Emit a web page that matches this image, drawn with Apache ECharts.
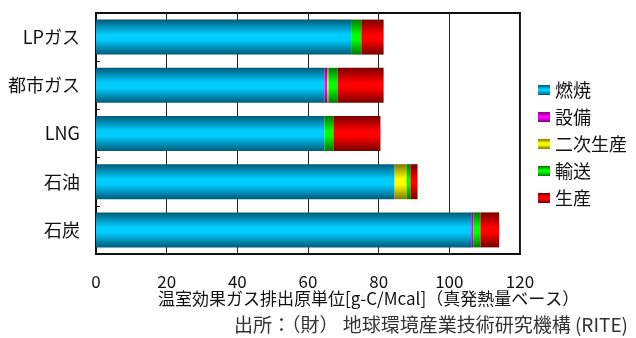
<!DOCTYPE html>
<html>
<head>
<meta charset="utf-8">
<script src="https://cdn.jsdelivr.net/npm/echarts@6/dist/echarts.min.js"></script>
<style>
  html, body { margin: 0; padding: 0; background: #fff; }
  #chart { width: 636px; height: 338px; }
</style>
</head>
<body>
<div id="chart"></div>
<script>
// categories bottom -> top (category axis starts at the bottom)
const fuels = ["石炭", "石油", "LNG", "都市ガス", "LPガス"];
const xTicks = [0, 20, 40, 60, 80, 100, 120];

// g-C/Mcal
const combustion = [106.2, 84.5, 64.7, 64.7, 72.2];   // 燃焼
const equipment  = [0.6, 0, 0, 0.8, 0];               // 設備
const secondary  = [0, 3.4, 0, 0.3, 0];               // 二次生産
const transport  = [2.0, 1.1, 2.5, 2.6, 2.9];         // 輸送
const production = [5.3, 2.0, 13.3, 13.0, 6.3];       // 生産

const FONT = '"Noto Sans CJK JP", "DejaVu Sans", sans-serif';

function shade(dark, bright) {
  return new echarts.graphic.LinearGradient(0, 0, 0, 1, [
    { offset: 0, color: dark },
    { offset: 0.42, color: bright },
    { offset: 0.58, color: bright },
    { offset: 1, color: dark }
  ]);
}

const layers = [
  { name: "燃焼", data: combustion, color: shade("#005a78", "#00ccff") },
  { name: "設備", data: equipment, color: shade("#800080", "#ff00ff") },
  { name: "二次生産", data: secondary, color: shade("#7a7a00", "#ffff00") },
  { name: "輸送", data: transport, color: shade("#007800", "#00ff00") },
  { name: "生産", data: production, color: shade("#780000", "#ff0000") }
];

const chart = echarts.init(document.getElementById("chart"));
chart.setOption({
  backgroundColor: "#fff",
  animation: false,
  textStyle: { fontFamily: FONT },
  grid: {
    left: 96, right: 116, top: 13, bottom: 84,
    show: true, borderColor: "#111", borderWidth: 2
  },
  legend: {
    orient: "vertical",
    left: 533, top: 72,
    icon: "rect",
    itemWidth: 12, itemHeight: 10, itemGap: 1,
    textStyle: { fontSize: 18, color: "#111", fontFamily: FONT, lineHeight: 26 },
    data: layers.map(l => l.name)
  },
  xAxis: {
    type: "value",
    min: 0, max: 120, interval: 20,
    axisLine: { show: true, lineStyle: { color: "#111", width: 2 } },
    axisTick: { show: false },
    axisLabel: {
      fontSize: 17, color: "#111", margin: 19,
      formatter: v => (xTicks.includes(v) ? String(v) : "")
    },
    splitLine: { show: true, lineStyle: { color: "#222", width: 1 } }
  },
  yAxis: {
    type: "category",
    data: fuels,
    axisLine: { show: true, lineStyle: { color: "#111", width: 2 } },
    axisTick: { show: true, inside: true, length: 4, lineStyle: { color: "#111" } },
    axisLabel: { fontSize: 18, color: "#111", margin: 16 },
    splitLine: { show: false }
  },
  series: layers.map(l => ({
    name: l.name,
    type: "bar",
    stack: "total",
    barWidth: 35,
    data: l.data,
    itemStyle: { color: l.color }
  })),
  graphic: [{
    type: "text",
    left: 158, top: 290,
    style: {
      text: "温室効果ガス排出原単位[g-C/Mcal]（真発熱量ベース）",
      font: "17px " + FONT,
      fill: "#111"
    }
  }, {
    type: "text",
    right: 8, top: 315,
    style: {
      text: "出所：（財） 地球環境産業技術研究機構 (RITE)",
      font: "19px " + FONT,
      fill: "#333"
    }
  }]
});
</script>
</body>
</html>
